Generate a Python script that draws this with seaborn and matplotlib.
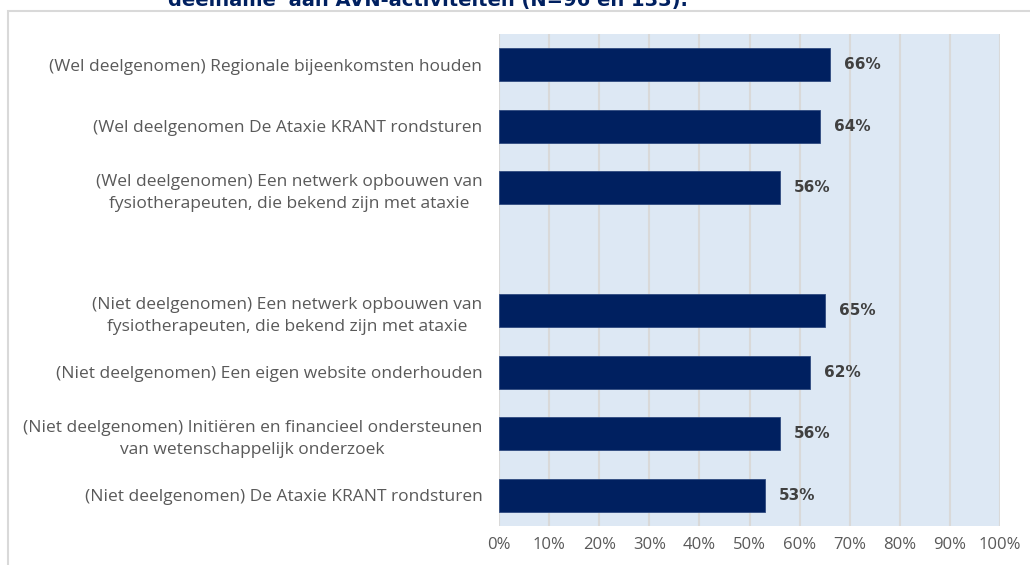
import numpy as np
import pandas as pd
import matplotlib
matplotlib.use("Agg")
import matplotlib.pyplot as plt
import seaborn as sns
from matplotlib.patches import Rectangle

# data
categories = [
    "(Wel deelgenomen) Regionale bijeenkomsten houden",
    "(Wel deelgenomen De Ataxie KRANT rondsturen",
    "(Wel deelgenomen) Een netwerk opbouwen van\nfysiotherapeuten, die bekend zijn met ataxie",
    "(Niet deelgenomen) Een netwerk opbouwen van\nfysiotherapeuten, die bekend zijn met ataxie",
    "(Niet deelgenomen) Een eigen website onderhouden",
    "(Niet deelgenomen) Initiëren en financieel ondersteunen\nvan wetenschappelijk onderzoek",
    "(Niet deelgenomen) De Ataxie KRANT rondsturen",
]
values = [0.66, 0.64, 0.56, 0.65, 0.62, 0.56, 0.53]
gap_label = " "
order = categories[:3] + [gap_label] + categories[3:]
title = "'deelname' aan AVN-activiteiten (N=96 en 133)."

df = pd.DataFrame({"cat": categories, "val": values})

sns.set_theme(style="white")
plt.rcParams["font.family"] = ["Open Sans", "DejaVu Sans"]

fig = plt.figure(figsize=(10.30, 5.65), dpi=100)
ax = fig.add_axes([499 / 1030, 1 - 526 / 565, 501 / 1030, 492 / 565])

# outer frame like the source chart area
fig.patches.append(Rectangle((8 / 1030, -0.2), 1.2, 1.2 - 11 / 565,
                             transform=fig.transFigure, fill=False,
                             edgecolor="#D9D9D9", linewidth=1.5))

ax.set_facecolor("#DDE8F4")
sns.barplot(data=df, x="val", y="cat", order=order, color="#002060",
            width=0.54, edgecolor="#2F4A80", linewidth=0.6, ax=ax,
            saturation=1, zorder=3)

ticks = np.arange(0, 1.01, 0.1)
ax.set_xlim(0, 1)
ax.set_xticks(ticks)
ax.set_xticklabels([f"{int(round(t * 100))}%" for t in ticks])
ax.xaxis.grid(True, color="#D9D9D9", linewidth=1.5, zorder=0)
ax.set_axisbelow(True)
for s in ax.spines.values():
    s.set_visible(False)
ax.set_xlabel("")
ax.set_ylabel("")
ax.tick_params(axis="both", length=0)
ax.tick_params(axis="x", pad=8, labelsize=12, labelcolor="#595959")
ax.tick_params(axis="y", pad=12, labelsize=12.5, labelcolor="#595959")
for lbl in ax.get_yticklabels():
    lbl.set_multialignment("center")
    lbl.set_linespacing(1.55)

# value labels
for cat, v in zip(categories, values):
    ax.annotate(f"{int(round(v * 100))}%", xy=(v, order.index(cat)),
                xytext=(10, 0), textcoords="offset points",
                va="center", ha="left", fontsize=11, fontweight="bold",
                color="#404040", family="DejaVu Sans")

# title, clipped at the top of the image as in the reference
fig.text(425 / 1030, 1 - 6 / 565, title, ha="center", va="baseline",
         fontsize=14, fontweight="bold", color="#002060", family="DejaVu Sans")

fig.savefig("out.png", dpi=100)
